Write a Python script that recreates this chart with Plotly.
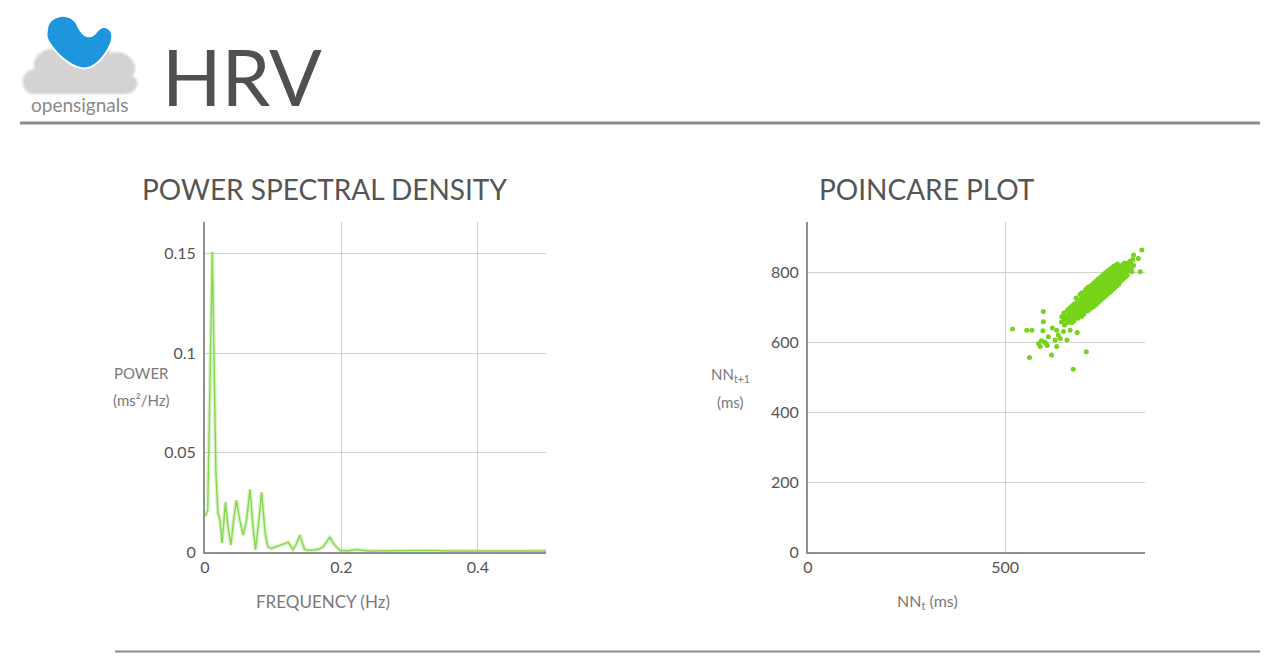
import plotly.graph_objects as go

# ---------------- data ----------------
psd_freq = [0.000, 0.004, 0.0107, 0.013, 0.016, 0.019, 0.022, 0.025, 0.028, 0.030,
            0.034, 0.038, 0.042, 0.046, 0.051, 0.056, 0.061, 0.066, 0.070, 0.074,
            0.079, 0.083, 0.088, 0.092, 0.097, 0.1025, 0.108, 0.115, 0.122, 0.129,
            0.134, 0.139, 0.146, 0.153, 0.161, 0.167, 0.173, 0.178, 0.183, 0.190,
            0.198, 0.210, 0.222, 0.240, 0.270, 0.300, 0.330, 0.360, 0.400, 0.430,
            0.460, 0.500]
psd_power = [0.018, 0.021, 0.151, 0.100, 0.040, 0.0196, 0.016, 0.0045, 0.018, 0.025,
             0.012, 0.0035, 0.016, 0.026, 0.016, 0.0085, 0.016, 0.0315, 0.014, 0.001,
             0.016, 0.030, 0.010, 0.0027, 0.0018, 0.0024, 0.003, 0.004, 0.005, 0.0013,
             0.004, 0.0085, 0.0013, 0.0008, 0.001, 0.0015, 0.0024, 0.005, 0.0074, 0.0035,
             0.0007, 0.0006, 0.0012, 0.0005, 0.0006, 0.0004, 0.0008, 0.0005, 0.0004, 0.0006,
             0.0004, 0.0005]

nn_t = [643, 647, 651, 652, 649, 656, 654, 658, 661, 659, 662, 663, 666, 664, 667, 668,
        671, 669, 672, 673, 670, 676, 674, 677, 678, 675, 681, 679, 682, 683, 680, 686,
        684, 687, 688, 685, 691, 689, 692, 693, 690, 694, 696, 694, 697, 698, 695, 699,
        701, 703, 699, 702, 704, 700, 706, 704, 707, 708, 705, 709, 711, 709, 712, 713,
        710, 714, 716, 714, 717, 718, 715, 719, 721, 719, 722, 723, 720, 724, 726, 724,
        727, 728, 725, 729, 731, 729, 732, 733, 730, 734, 736, 734, 737, 738, 735, 739,
        741, 739, 742, 743, 740, 744, 746, 744, 747, 748, 745, 749, 751, 749, 752, 753,
        750, 754, 756, 754, 757, 758, 755, 759, 761, 759, 762, 763, 760, 764, 766, 764,
        767, 768, 765, 769, 771, 769, 772, 773, 770, 774, 776, 774, 777, 778, 775, 779,
        781, 779, 782, 783, 780, 784, 786, 784, 787, 788, 785, 789, 791, 789, 792, 793,
        790, 796, 794, 797, 798, 795, 801, 799, 802, 803, 800, 806, 804, 807, 805, 811,
        809, 812, 810, 816, 814, 817, 821, 819, 822, 826, 824,
        519, 555, 568, 562, 597, 597, 596, 585, 589, 618, 627, 631, 631, 657, 665, 683,
        706, 673, 604, 644, 826, 847, 843, 838, 620, 610, 635, 648, 600, 640, 592, 607]
nn_t1 = [657, 671, 649, 664, 683, 661, 674, 691, 656, 669, 681, 696, 663, 676, 689, 701,
         667, 681, 693, 706, 656, 673, 686, 698, 711, 661, 676, 689, 701, 713, 726, 681,
         693, 706, 719, 668, 686, 698, 711, 723, 736, 673, 691, 703, 716, 728, 741, 679,
         693, 706, 719, 731, 746, 683, 699, 711, 723, 736, 751, 689, 703, 716, 729, 741,
         756, 693, 709, 721, 733, 746, 759, 698, 713, 726, 739, 751, 763, 701, 719, 731,
         743, 756, 769, 706, 723, 736, 749, 761, 773, 711, 729, 741, 753, 766, 779, 716,
         733, 746, 758, 771, 783, 721, 739, 751, 763, 776, 788, 726, 743, 756, 768, 781,
         793, 731, 749, 761, 773, 786, 798, 736, 753, 766, 778, 791, 803, 741, 759, 771,
         783, 796, 807, 746, 763, 776, 788, 801, 811, 751, 769, 781, 793, 806, 816, 756,
         773, 786, 798, 809, 819, 761, 779, 791, 803, 813, 823, 766, 783, 796, 806, 816,
         771, 789, 801, 811, 821, 776, 793, 806, 816, 826, 781, 799, 811, 821, 786, 803,
         816, 826, 791, 809, 821, 831, 813, 826, 801, 819, 836,
         637, 634, 634, 556, 687, 658, 632, 596, 587, 563, 606, 634, 587, 606, 634, 627,
         572, 522, 596, 672, 849, 863, 801, 839, 640, 615, 620, 630, 600, 610, 604, 590]

psd_xticks = [0, 0.2, 0.4]
psd_xticklabels = ["0", "0.2", "0.4"]
psd_yticks = [0, 0.05, 0.1, 0.15]
psd_yticklabels = ["0", "0.05", "0.1", "0.15"]
pc_xticks = [0, 500]
pc_yticks = [0, 200, 400, 600, 800]

# ---------------- figure ----------------
OFF = 8                      # page body margin of the written html
W, H = 1280 - 2 * OFF, 661 - 2 * OFF
FONT = "Lato, Roboto, sans-serif"
TXT = "#555555"
LBL = "#7a7a7a"
GRID = "#d0d0d0"
AXL = "#8f8f8f"


def px(x):
    return (x - OFF) / W


def py(y):
    return 1 - (y - OFF) / H


def path(cmds):
    out = []
    for letter, pts in cmds:
        seg = letter
        if pts:
            coords = []
            for i in range(0, len(pts), 2):
                coords.append(f"{px(pts[i]):.5f},{py(pts[i + 1]):.5f}")
            seg += " " + " ".join(coords)
        out.append(seg)
    return " ".join(out)


fig = go.Figure()

fig.add_trace(go.Scatter(x=psd_freq, y=psd_power, mode="lines",
                         line=dict(color="rgba(150,220,95,0.35)", width=4),
                         xaxis="x", yaxis="y", hoverinfo="skip", showlegend=False))
fig.add_trace(go.Scatter(x=psd_freq, y=psd_power, mode="lines",
                         line=dict(color="rgb(135,214,80)", width=1.4),
                         xaxis="x", yaxis="y", hoverinfo="skip", showlegend=False))
fig.add_trace(go.Scatter(x=nn_t, y=nn_t1, mode="markers",
                         marker=dict(color="rgb(118,212,26)", size=5, line=dict(width=0)),
                         xaxis="x2", yaxis="y2", hoverinfo="skip", showlegend=False))

ydom = [py(552), py(222)]
common = dict(showgrid=True, gridcolor=GRID, gridwidth=1, zeroline=False,
              showline=True, linecolor=AXL, linewidth=2, ticks="",
              tickfont=dict(family=FONT, size=16, color=TXT), fixedrange=True)

fig.update_layout(
    width=W, height=H, margin=dict(l=0, r=0, t=0, b=0, autoexpand=False),
    paper_bgcolor="white", plot_bgcolor="white", showlegend=False,
    xaxis=dict(domain=[px(205), px(546)], range=[0, 0.5], anchor="y",
               tickvals=psd_xticks, ticktext=psd_xticklabels, **common),
    yaxis=dict(domain=ydom, range=[0, 0.166], anchor="x", ticklabelstandoff=4,
               tickvals=psd_yticks, ticktext=psd_yticklabels, **common),
    xaxis2=dict(domain=[px(808), px(1145)], range=[0, 855], anchor="y2",
                tickvals=pc_xticks, **common),
    yaxis2=dict(domain=ydom, range=[0, 943], anchor="x2", ticklabelstandoff=4,
                tickvals=pc_yticks, **common),
)

shapes = []
shapes.append(dict(type="line", xref="paper", yref="paper", x0=px(20), x1=px(1260),
                   y0=py(123), y1=py(123), line=dict(color="#8c8c8c", width=3)))
shapes.append(dict(type="line", xref="paper", yref="paper", x0=px(115), x1=px(1260),
                   y0=py(651.5), y1=py(651.5), line=dict(color="#8c8c8c", width=2)))
# logo: grey cloud
shapes.append(dict(type="path", xref="paper", yref="paper",
                   path=path([("M", [34, 94]), ("C", [20, 94, 18, 72, 34, 69]),
                              ("C", [32, 52, 52, 44, 64, 51]), ("C", [72, 36, 104, 36, 110, 53]),
                              ("C", [126, 49, 140, 62, 133, 76]), ("C", [142, 82, 136, 94, 124, 94]),
                              ("Z", [])]),
                   fillcolor="#d3d3d3", line=dict(color="#e8e8e8", width=2), layer="above"))
# logo: blue blob
shapes.append(dict(type="path", xref="paper", yref="paper",
                   path=path([("M", [47, 30]), ("C", [47, 14, 72, 10, 78, 26]),
                              ("C", [83, 37, 91, 40, 97, 31]), ("C", [104, 22, 116, 29, 111, 43]),
                              ("C", [106, 56, 96, 66, 88, 68]), ("C", [75, 71, 58, 56, 50, 44]),
                              ("C", [46, 39, 46, 34, 47, 30]), ("Z", [])]),
                   fillcolor="rgb(30,150,222)", line=dict(color="white", width=2), layer="above"))
fig.update_layout(shapes=shapes)

ann = []


def text(x, y, s, size, color=TXT, xanchor="center"):
    ann.append(dict(x=px(x), y=py(y), xref="paper", yref="paper", text=s, showarrow=False,
                    xanchor=xanchor, yanchor="middle",
                    font=dict(family=FONT, size=size, color=color)))


text(160, 76, "HRV", 78, color="#505050", xanchor="left")
text(79, 104, "opensignals", 19, color="#8a8a8a")
text(324, 189, "POWER SPECTRAL DENSITY", 28)
text(927, 189, "POINCARE PLOT", 28)
text(141, 373, "POWER", 15, color=LBL)
text(141, 400, "(ms²/Hz)", 15, color=LBL)
text(323, 601, "FREQUENCY (Hz)", 17, color=LBL)
text(730, 375, "NN<sub>t+1</sub>", 15, color=LBL)
text(730, 402, "(ms)", 15, color=LBL)
text(927, 601, "NN<sub>t</sub> (ms)", 16, color=LBL)
fig.update_layout(annotations=ann)

fig.write_html("out.html")
